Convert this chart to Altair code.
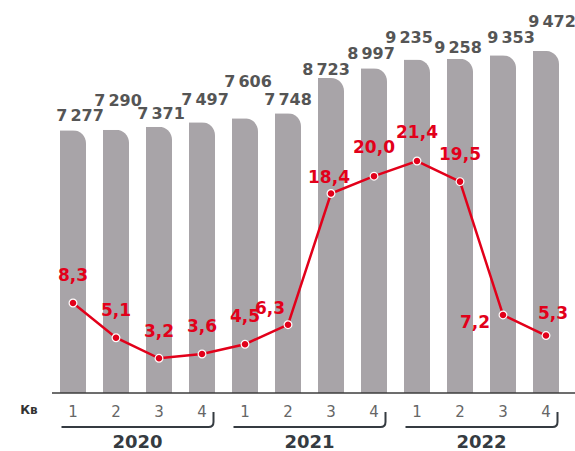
import altair as alt
import pandas as pd

# ---- data ----
years = [2020, 2020, 2020, 2020, 2021, 2021, 2021, 2021, 2022, 2022, 2022, 2022]
quarters = [1, 2, 3, 4, 1, 2, 3, 4, 1, 2, 3, 4]
bar_values = [7277, 7290, 7371, 7497, 7606, 7748, 8723, 8997, 9235, 9258, 9353, 9472]
growth = [8.3, 5.1, 3.2, 3.6, 4.5, 6.3, 18.4, 20.0, 21.4, 19.5, 7.2, 5.3]

# label nudges (pixels) to mimic the reference placement
bar_label_dx = [7, 2, 2, 3, 3, 0, -5, -3, -8, -2, 8, 6]
bar_label_lift = [14, 29, 13, 22, 36, 13, 8, 14, 22, 11, 17, 29]
growth_label_dx = [0, 0, 0, 0, 0, -18, -2, 0, 0, 0, -28, 7]
growth_label_dy = [-27, -27, -26, -27, -27, -16, -16, -28, -28, -27, 8, -22]

# ---- layout ----
STEP = 43
W = 516
H = 383
BAR_MAX = 10607
LINE_MAX = 35.33
FONT = "DejaVu Sans"
RED = "#e2001a"
BAR = "#a8a4a8"
DARK = "#555555"

df = pd.DataFrame({
    "idx": list(range(len(bar_values))),
    "year": years,
    "quarter": quarters,
    "value": bar_values,
    "growth": growth,
})
df["qlabel"] = df["quarter"].astype(str)
df["bar_label"] = [f"{v:,}".replace(",", "\u2009") for v in bar_values]
df["growth_label"] = [f"{v:.1f}".replace(".", ",") for v in growth]
df["bar_lx"] = df["idx"] + pd.Series(bar_label_dx) / STEP
df["bar_ly"] = df["value"] + pd.Series(bar_label_lift) * BAR_MAX / H
df["g_lx"] = df["idx"] + pd.Series(growth_label_dx) / STEP
df["g_ly"] = df["growth"] - pd.Series(growth_label_dy) * LINE_MAX / H

ydf = df.groupby("year", as_index=False)["idx"].mean()
ydf["ylabel"] = ydf["year"].astype(str)

xs = alt.Scale(domain=[-0.5, 11.5], nice=False, zero=False, padding=0)
yb = alt.Scale(domain=[0, BAR_MAX], nice=False, zero=True, padding=0)
yl = alt.Scale(domain=[0, LINE_MAX], nice=False, zero=True, padding=0)


def X(f):
    return alt.X(f, type="quantitative", scale=xs, axis=None)


base = alt.Chart(df)

bars = base.mark_bar(width=26, color=BAR, cornerRadiusTopRight=15).encode(
    x=X("idx"), y=alt.Y("value:Q", scale=yb, axis=None)
)
bar_labels = base.mark_text(
    font=FONT, fontSize=16, fontWeight="bold", color=DARK, baseline="middle", align="center"
).encode(
    x=X("bar_lx"), y=alt.Y("bar_ly:Q", scale=yb, axis=None), text="bar_label:N"
)
bar_layer = alt.layer(bars, bar_labels)

line = base.mark_line(color=RED, strokeWidth=2.5).encode(
    x=X("idx"), y=alt.Y("growth:Q", scale=yl, axis=None)
)
points = base.mark_point(
    filled=True, color=RED, size=60, opacity=1, stroke="white", strokeWidth=1.2, fill=RED
).encode(x=X("idx"), y=alt.Y("growth:Q", scale=yl, axis=None))
g_labels = base.mark_text(
    font=FONT, fontSize=17, fontWeight="bold", color=RED, baseline="middle", align="center"
).encode(
    x=X("g_lx"), y=alt.Y("g_ly:Q", scale=yl, axis=None), text="growth_label:N"
)
line_layer = alt.layer(line, points, g_labels)

axis_line = alt.Chart(pd.DataFrame({"a": [0]})).mark_rule(color="#3c3c3c", strokeWidth=1.5).encode(
    x=alt.value(0.5), x2=alt.value(523.5), y=alt.value(H)
)
q_labels = base.mark_text(
    font=FONT, fontSize=15, color="#666666", baseline="middle", align="center"
).encode(x=X("idx"), y=alt.value(402), text="qlabel:N")
kv = alt.Chart(pd.DataFrame({"t": ["Кв"]})).mark_text(
    font=FONT, fontSize=12, fontWeight="bold", color="#333333", baseline="middle", align="center"
).encode(x=alt.value(-22.5), y=alt.value(400), text="t:N")

bracket_path = "M -1 0.092 L 0.934 0.092 Q 1 0.092 1 0.026 L 1 -0.105"
brackets = alt.Chart(ydf).mark_point(
    shape=bracket_path, size=152 * 152, filled=False, stroke="#353b41", strokeWidth=2, opacity=1
).encode(x=X("idx"), y=alt.value(410))
year_labels = alt.Chart(ydf).mark_text(
    font=FONT, fontSize=18, fontWeight="bold", color="#353b41", baseline="middle", align="center"
).encode(x=X("idx"), y=alt.value(433), text="ylabel:N")

bottom = alt.layer(axis_line, q_labels, kv, brackets, year_labels)

chart = (
    alt.layer(bar_layer, line_layer, bottom)
    .resolve_scale(y="independent")
    .properties(
        width=W,
        height=H,
        padding={"left": 51.5, "top": 10, "right": 7.5, "bottom": 58},
        autosize=alt.AutoSizeParams(type="none"),
    )
    .configure_view(stroke=None)
)

chart.save("out.html", embed_options={"renderer": "svg", "actions": False})
